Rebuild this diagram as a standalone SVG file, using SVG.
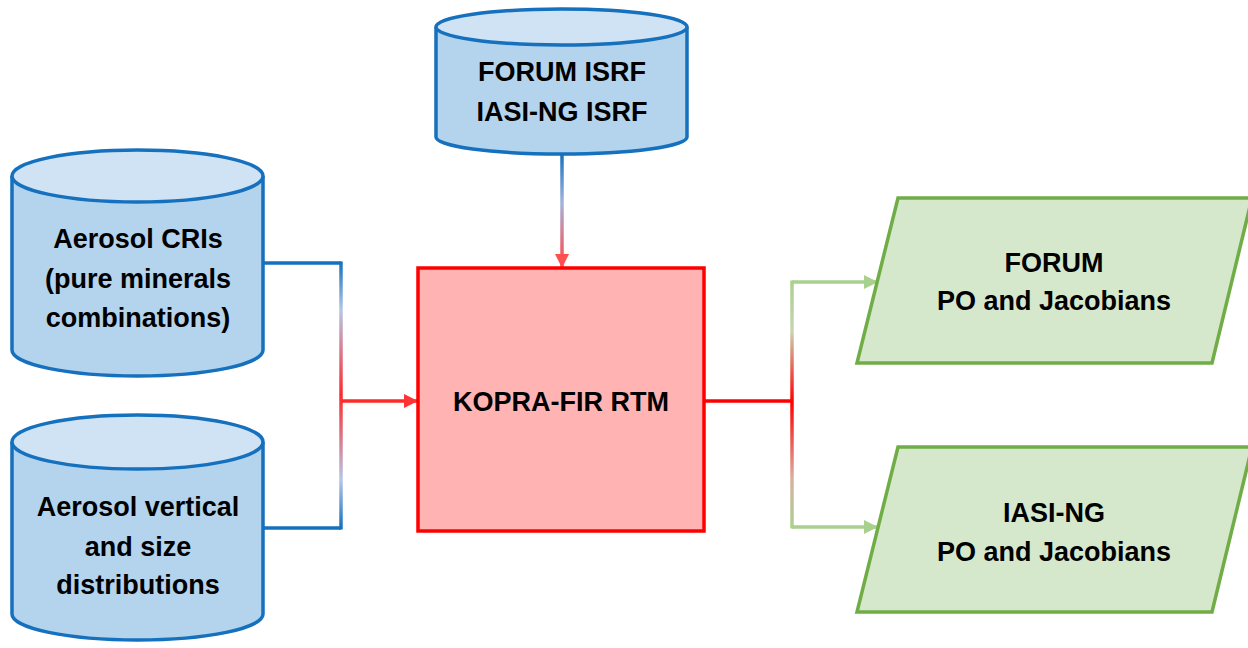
<svg xmlns="http://www.w3.org/2000/svg" width="1248" height="648" viewBox="0 0 1248 648">
<style>
.cyl-side{fill:#b4d3ec;stroke:#1570be;stroke-width:3.5}
.cyl-top{fill:#cfe3f4;stroke:#1570be;stroke-width:3.5}
.out{fill:#d5e8cc;stroke:#70ad47;stroke-width:3.5;stroke-linejoin:miter}
.proc{fill:#ffb3b3;stroke:#ff0000;stroke-width:3.5}
.t{font-family:"Liberation Sans",Arial,sans-serif;font-weight:bold;font-size:27px;fill:#000;text-anchor:middle}
.c{fill:none;stroke-width:3.5}
</style>
<defs>
<linearGradient id="gTop" gradientUnits="userSpaceOnUse" x1="0" y1="154" x2="0" y2="262">
<stop offset="0" stop-color="#1570be"/><stop offset="0.45" stop-color="#a3b4de"/><stop offset="1" stop-color="#ff4d4d"/>
</linearGradient>
<linearGradient id="gLeft" gradientUnits="userSpaceOnUse" x1="0" y1="262" x2="0" y2="528">
<stop offset="0" stop-color="#1570be"/><stop offset="0.18" stop-color="#b4c7e7"/><stop offset="0.5" stop-color="#ff2a2a"/><stop offset="0.82" stop-color="#b4c7e7"/><stop offset="1" stop-color="#1570be"/>
</linearGradient>
<linearGradient id="gRight" gradientUnits="userSpaceOnUse" x1="0" y1="282" x2="0" y2="527">
<stop offset="0" stop-color="#a9d18e"/><stop offset="0.2" stop-color="#c9d4b0"/><stop offset="0.49" stop-color="#ff0000"/><stop offset="0.8" stop-color="#d9b0a0"/><stop offset="1" stop-color="#a9d18e"/>
</linearGradient>
<marker id="aRed" viewBox="0 0 10 10" refX="10" refY="5" markerWidth="4" markerHeight="4" orient="auto" markerUnits="strokeWidth">
<path d="M0,0 L10,5 L0,10 z" fill="#ff3333"/>
</marker>
<marker id="aRed2" viewBox="0 0 10 10" refX="10" refY="5" markerWidth="4" markerHeight="4" orient="auto" markerUnits="strokeWidth">
<path d="M0,0 L10,5 L0,10 z" fill="#ff5050"/>
</marker>
<marker id="aGreen" viewBox="0 0 10 10" refX="10" refY="5" markerWidth="4" markerHeight="4" orient="auto" markerUnits="strokeWidth">
<path d="M0,0 L10,5 L0,10 z" fill="#a9d18e"/>
</marker>
</defs>

<g id="connectors">
<path class="c" d="M562,154 V268" stroke="url(#gTop)" marker-end="url(#aRed2)"/>
<path class="c" d="M263,263 H341" stroke="#1570be"/>
<path class="c" d="M263,528 H341" stroke="#1570be"/>
<path class="c" d="M341,261.5 V529.5" stroke="url(#gLeft)"/>
<path class="c" d="M341,401 H418" stroke="#ff2a2a" marker-end="url(#aRed)"/>
<path class="c" d="M704,401 H792" stroke="#ff0000"/>
<path class="c" d="M792,280.5 V528.5" stroke="url(#gRight)"/>
<path class="c" d="M792,282 H878" stroke="#a9d18e" marker-end="url(#aGreen)"/>
<path class="c" d="M792,527 H878" stroke="#a9d18e" marker-end="url(#aGreen)"/>
</g>

<g id="isrf">
<path class="cyl-side" d="M436,27 V137 A125.5,17 0 0 0 687,137 V27"/>
<ellipse class="cyl-top" cx="561.5" cy="27" rx="125.5" ry="18"/>
<text class="t" x="562" y="81">FORUM ISRF</text>
<text class="t" x="562" y="121">IASI-NG ISRF</text>
</g>

<g id="cri">
<path class="cyl-side" d="M12,176 V350 A125.5,26 0 0 0 263,350 V176"/>
<ellipse class="cyl-top" cx="137.5" cy="176" rx="125.5" ry="26"/>
<text class="t" x="138" y="248">Aerosol CRIs</text>
<text class="t" x="138" y="288">(pure minerals</text>
<text class="t" x="138" y="327">combinations)</text>
</g>

<g id="dist">
<path class="cyl-side" d="M12,442 V614 A125.5,26 0 0 0 263,614 V442"/>
<ellipse class="cyl-top" cx="137.5" cy="442" rx="125.5" ry="27"/>
<text class="t" x="138" y="516">Aerosol vertical</text>
<text class="t" x="138" y="556">and size</text>
<text class="t" x="138" y="594">distributions</text>
</g>

<g id="kopra">
<rect class="proc" x="418" y="268" width="286" height="263"/>
<text class="t" x="561" y="411">KOPRA-FIR RTM</text>
</g>

<g id="forum-out">
<polygon class="out" points="898,198 1252,198 1212,363 857,363"/>
<text class="t" x="1054" y="272">FORUM</text>
<text class="t" x="1054" y="310">PO and Jacobians</text>
</g>

<g id="iasi-out">
<polygon class="out" points="898,447 1252,447 1212,612 857,612"/>
<text class="t" x="1054" y="522">IASI-NG</text>
<text class="t" x="1054" y="561">PO and Jacobians</text>
</g>
</svg>
